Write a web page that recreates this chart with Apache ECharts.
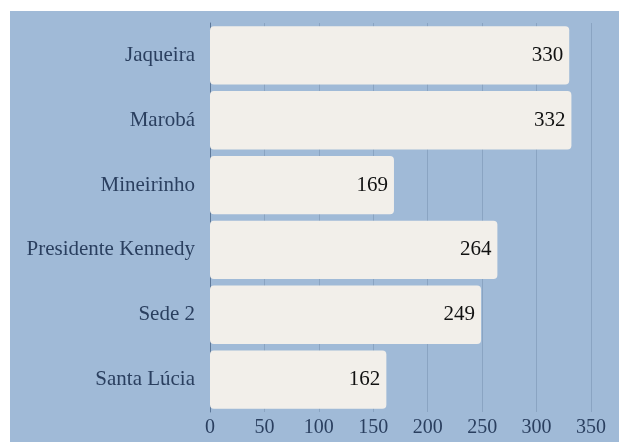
<!DOCTYPE html>
<html>
<head>
<meta charset="utf-8">
<script src="https://cdn.jsdelivr.net/npm/echarts@6/dist/echarts.min.js"></script>
<style>
  html, body { margin: 0; padding: 0; background: #ffffff; }
  #chart { position: absolute; left: 10px; top: 11px; width: 609px; height: 431px; }
</style>
</head>
<body>
<div id="chart"></div>
<script>
const categories = ['Jaqueira', 'Marobá', 'Mineirinho', 'Presidente Kennedy', 'Sede 2', 'Santa Lúcia']
const values = [330, 332, 169, 264, 249, 162]
const xTicks = { min: 0, max: 350, interval: 50 }

const font = '"Liberation Serif", "Times New Roman", serif'
const chart = echarts.init(document.getElementById('chart'))

chart.setOption({
  backgroundColor: '#a0bad7',
  animation: false,
  grid: { left: 200, right: 28, top: 12, bottom: 30 },
  xAxis: {
    type: 'value',
    min: xTicks.min,
    max: xTicks.max,
    interval: xTicks.interval,
    axisLine: { show: false },
    axisTick: { show: false },
    axisLabel: { color: '#2a3f5f', fontSize: 20, fontFamily: font, margin: 6 },
    splitLine: { show: true, lineStyle: { color: '#8aa4c2', width: 1 } }
  },
  yAxis: {
    type: 'category',
    data: categories,
    inverse: true,
    axisLine: { show: true, lineStyle: { color: '#5d7899', width: 1 } },
    axisTick: { show: false },
    axisLabel: { color: '#2a3f5f', fontSize: 21, fontFamily: font, margin: 15 }
  },
  series: [{
    type: 'bar',
    data: values,
    barCategoryGap: '10%',
    itemStyle: { color: '#f2efea', borderRadius: 4 },
    label: {
      show: true,
      position: 'insideRight',
      distance: 6,
      color: '#111111',
      fontSize: 21,
      fontFamily: font
    }
  }]
})
</script>
</body>
</html>
